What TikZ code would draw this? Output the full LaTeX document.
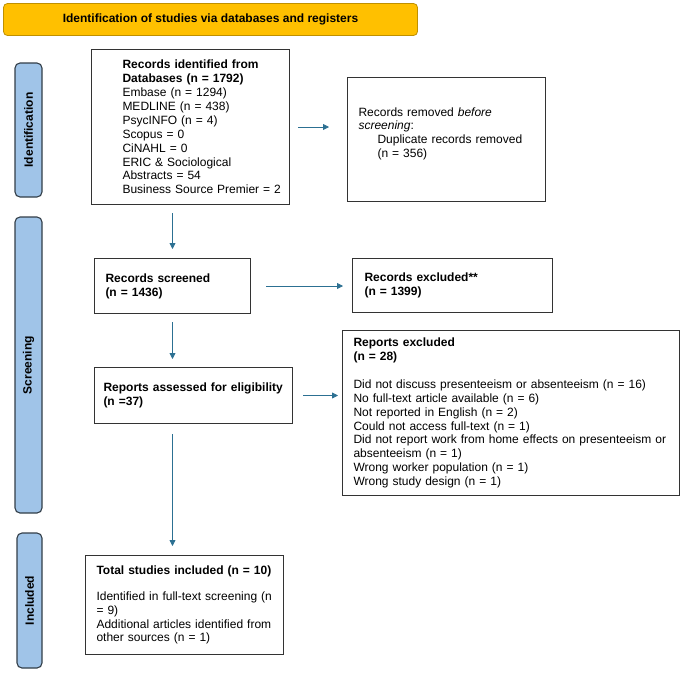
\documentclass[tikz,border=0pt]{standalone}
\usepackage{fontspec}
\setmainfont{Liberation Sans}
\usepackage{tikz}
\usetikzlibrary{positioning,arrows.meta}

\definecolor{headfill}{RGB}{255,192,0}
\definecolor{headline}{RGB}{191,144,0}
\definecolor{barfill}{RGB}{160,196,232}
\definecolor{barline}{RGB}{50,62,72}
\definecolor{boxline}{RGB}{51,51,51}
\definecolor{arrowc}{RGB}{44,112,146}

\begin{document}
\begin{tikzpicture}[x=1pt,y=1pt,>={Triangle[length=6pt,width=6pt]}]
	\tikzstyle{box}=[draw=boxline, line width=1pt, align=left, anchor=north west, inner ysep=0pt, font=\fontsize{12}{13.9}\selectfont]
	\tikzstyle{phase}=[draw=barline, fill=barfill, line width=1.1pt, rounded corners=5pt, rotate=90, inner sep=0pt, font=\bfseries\fontsize{12}{14}\selectfont]
	\tikzstyle{head}=[draw=headline, fill=headfill, line width=0.8pt, rounded corners=4pt, minimum width=414pt, minimum height=32pt, font=\bfseries\fontsize{12}{14}\selectfont]
	\tikzstyle{arr}=[->, draw=arrowc, fill=arrowc, line width=0.8pt]
	\useasboundingbox (0,0) rectangle (682,-673);
		\node[head] (head) at (210.5,-19.5) {Identification of studies via databases and registers};
		\node[phase, minimum width=134pt, minimum height=27pt] (pid) at (28.5,-130) {Identification};
		\node[phase, minimum width=296pt, minimum height=27pt] (psc) at (28.5,-365) {Screening};
		\node[phase, minimum width=135pt, minimum height=25pt] (pin) at (29.5,-600.5) {Included};
		\node[box, minimum width=198pt, minimum height=155pt, inner xsep=8pt, text width=182pt] (idf) at (91,-49) {\leftskip=23pt \textbf{Records identified from}\\ \textbf{Databases (n = 1792)}\\ Embase (n = 1294)\\ MEDLINE (n = 438)\\ PsycINFO (n = 4)\\ Scopus = 0\\ CiNAHL = 0\\ ERIC \& Sociological\\ Abstracts = 54\\ \mbox{Business Source Premier = 2}\par};
		\node[box, minimum width=198pt, minimum height=124pt, inner xsep=11pt, text width=176pt] (rem) [right=57pt of idf.north east, anchor=north west, yshift=-28pt] {Records removed \textit{before}\\ \textit{screening}:\\ \hspace*{19pt}Duplicate records removed\\ \hspace*{19pt}(n = 356)\\ \mbox{}};
		\node[box, minimum width=156pt, minimum height=55pt, inner xsep=11pt, text width=134pt] (scr) [below right=53pt and 3pt of idf.south west] {\textbf{Records screened}\\ \textbf{(n = 1436)}};
		\node[box, minimum width=200pt, minimum height=54pt, inner xsep=12pt, text width=176pt] (exc) [right=101pt of scr.north east, anchor=north west] {\textbf{Records excluded**}\\ \textbf{(n = 1399)}};
		\node[box, minimum width=198pt, minimum height=56pt, inner xsep=9pt, text width=180pt] (ass) [below=53pt of scr.south west, anchor=north west] {\textbf{Reports assessed for eligibility}\\ \textbf{(n =37)}};
		\node[box, minimum width=337pt, minimum height=165pt, inner xsep=11pt, text width=315pt] (rex) [above right=37pt and 49pt of ass.north east, anchor=north west] {\textbf{Reports excluded}\\ \textbf{(n = 28)}\\[13.9pt] Did not discuss presenteeism or absenteeism (n = 16)\\ No full-text article available (n = 6)\\ Not reported in English (n = 2)\\ Could not access full-text (n = 1)\\ Did not report work from home effects on presenteeism or\\ absenteeism (n = 1)\\ Wrong worker population (n = 1)\\ Wrong study design (n = 1)};
		\node[box, minimum width=198pt, minimum height=99pt, inner xsep=11pt, text width=176pt] (tot) [below=131pt of ass.south west, anchor=north west, xshift=-9pt] {\textbf{Total studies included (n = 10)}\\[12pt] Identified in full-text screening (n\\ = 9)\\ Additional articles identified from\\ other sources (n = 1)};
			\draw[arr, shorten <=8pt, shorten >=9pt] (idf.south -| scr.north) -- (scr.north);
			\draw[arr, shorten <=8pt, shorten >=18pt] (idf.east) -- (idf.east -| rem.west);
			\draw[arr, shorten <=15pt, shorten >=9pt] (scr.east) -- (scr.east -| exc.west);
			\draw[arr, shorten <=8pt, shorten >=8pt] (scr.south) -- (scr.south |- ass.north);
			\draw[arr, shorten <=10pt, shorten >=4pt] (ass.east) -- (ass.east -| rex.west);
			\draw[arr, shorten <=10pt, shorten >=9pt] (ass.south -| scr.south) -- (tot.north -| scr.south);
\end{tikzpicture}
\end{document}
